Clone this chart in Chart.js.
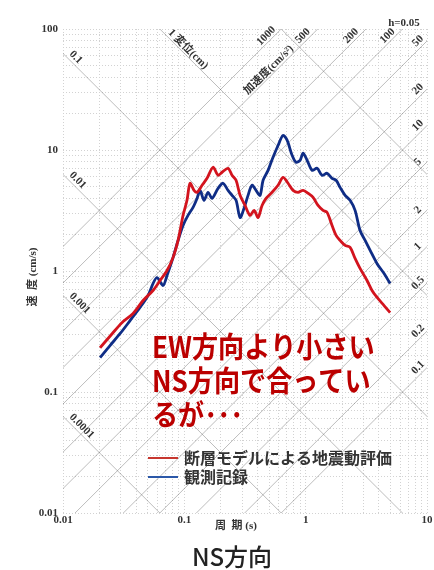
<!DOCTYPE html>
<html>
<head>
<meta charset="utf-8">
<script src="https://cdn.jsdelivr.net/npm/chart.js@4.4.0/dist/chart.umd.min.js"></script>
<style>
  html, body { margin: 0; padding: 0; background: #fff; }
  #wrap { position: relative; width: 434px; height: 570px; }
</style>
</head>
<body>
<div id="wrap"><canvas id="myChart" width="434" height="570"></canvas></div>
<script>
// 周期 (s) と擬似速度応答 (cm/s)
const modelPeriods = [0.0202, 0.0254, 0.0306, 0.0378, 0.0457, 0.0552, 0.0631, 0.0720, 0.0807, 0.0888,
  0.0976, 0.1052, 0.1114, 0.1202, 0.1273, 0.1400, 0.1538, 0.1725, 0.1897, 0.2046,
  0.2293, 0.2473, 0.2669, 0.2879, 0.3165, 0.3480, 0.3756, 0.4052, 0.4371, 0.4716,
  0.5287, 0.5921, 0.6510, 0.7161, 0.7875, 0.8658, 0.9525, 1.047, 1.151, 1.265,
  1.391, 1.501, 1.650, 1.781, 1.922, 2.113, 2.323, 2.554, 2.807, 3.206,
  3.524, 3.878, 4.428, 4.966];
const modelVelocity = [0.232, 0.303, 0.374, 0.445, 0.570, 0.690, 0.834, 1.01, 1.29, 1.79,
  2.88, 3.84, 5.31, 4.64, 4.47, 5.11, 5.83, 7.20, 6.18, 6.55,
  7.06, 6.18, 5.62, 4.22, 3.48, 2.88, 3.17, 2.77, 3.48, 3.98,
  4.47, 5.11, 5.95, 5.31, 4.64, 4.47, 4.64, 4.39, 4.06, 3.48,
  3.17, 3.05, 2.38, 1.97, 1.79, 1.63, 1.57, 1.27, 1.05, 0.834,
  0.690, 0.604, 0.518, 0.453];

const obsPeriods = [0.0202, 0.0244, 0.0295, 0.0357, 0.0431, 0.0502, 0.0552, 0.0596, 0.0668, 0.0720,
  0.0807, 0.0888, 0.0976, 0.1072, 0.1180, 0.1273, 0.1347, 0.1454, 0.1568, 0.1692,
  0.1897, 0.2085, 0.2293, 0.2473, 0.2669, 0.2879, 0.3107, 0.3350, 0.3614, 0.3899,
  0.4207, 0.4457, 0.4898, 0.5383, 0.5921, 0.6510, 0.7029, 0.7727, 0.8337, 0.8993,
  0.9525, 1.028, 1.130, 1.242, 1.365, 1.501, 1.650, 1.781, 1.922, 2.113,
  2.323, 2.554, 2.807, 3.09, 3.40, 3.878, 4.428, 4.966];
const obsVelocity = [0.192, 0.242, 0.303, 0.389, 0.499, 0.627, 0.788, 0.883, 0.759, 0.918,
  1.29, 1.79, 2.38, 2.88, 3.36, 3.98, 4.64, 3.84, 4.47, 3.98,
  4.82, 5.31, 4.64, 4.22, 3.84, 2.77, 3.30, 4.22, 5.11, 4.64,
  4.22, 5.62, 6.79, 8.71, 10.9, 13.2, 12.05, 9.05, 7.92, 8.22,
  9.40, 8.22, 6.79, 7.06, 6.18, 6.42, 5.83, 5.62, 4.91, 4.22,
  3.84, 3.17, 2.16, 1.79, 1.48, 1.15, 0.953, 0.788];

// 三軸図の斜線: 変位 (cm) と加速度 (cm/s2)
const dispLines = [0.0001, 0.001, 0.01, 0.1, 1, 10];
const dispLeftLabels = [0.1, 0.01, 0.001, 0.0001];
const accLines = [0.1, 0.2, 0.5, 1, 2, 5, 10, 20, 50, 100, 200, 500, 1000];
const accTopLabels = [1000, 500, 200, 100];
const accRightLabels = [50, 20, 10, 5, 2, 1, 0.5, 0.2, 0.1];

const xDecades = [0.01, 0.1, 1, 10];
const yDecades = [0.01, 0.1, 1, 10, 100];

const seriesNames = ['断層モデルによる地震動評価', '観測記録'];
const noteLines = ['EW方向より小さい', 'NS方向で合ってい', 'るが･･･'];

const TWO_PI = 2 * Math.PI;
const serif = '"Liberation Serif", "DejaVu Serif", "Noto Sans CJK JP"';
const cjk = '"Noto Sans CJK JP", sans-serif';

function minorTicks(decades) {
  const out = [];
  decades.forEach((d, i) => {
    if (i === decades.length - 1) { out.push(d); return; }
    for (let k = 1; k <= 9; k++) out.push(+(d * k).toPrecision(6));
  });
  return out;
}
const isDecade = v => Math.abs(Math.log10(v) - Math.round(Math.log10(v))) < 1e-6;

const diagStyle = { borderColor: 'rgba(90,90,90,0.5)', borderWidth: 0.8, pointRadius: 0, fill: false, order: 2, tension: 0 };
const diagSets = [
  ...dispLines.map(d => ({ ...diagStyle, data: [{ x: 0.001, y: TWO_PI * d / 0.001 }, { x: 100, y: TWO_PI * d / 100 }] })),
  ...accLines.map(a => ({ ...diagStyle, data: [{ x: 0.001, y: a * 0.001 / TWO_PI }, { x: 100, y: a * 100 / TWO_PI }] }))
];

function rotText(ctx, text, x, y, angle, align, baseline) {
  ctx.save();
  ctx.translate(x, y);
  ctx.rotate(angle);
  ctx.textAlign = align || 'center';
  ctx.textBaseline = baseline || 'middle';
  ctx.lineWidth = 3;
  ctx.strokeStyle = '#fff';
  ctx.strokeText(text, 0, 0);
  ctx.fillText(text, 0, 0);
  ctx.restore();
}

const tripartite = {
  id: 'tripartite',
  beforeDatasetsDraw(chart) {
    const { ctx, chartArea: a, scales: { x, y } } = chart;
    ctx.save();
    ctx.fillStyle = '#333';
    ctx.font = 'bold 11px ' + serif;
    // 変位の目盛 (左端)
    dispLeftLabels.forEach(d => {
      const px = a.left + 4;
      const py = y.getPixelForValue(TWO_PI * d / x.getValueForPixel(px));
      rotText(ctx, String(d), px, py - 1, Math.PI / 4, 'left', 'bottom');
    });
    // 変位 1cm (上端)
    const t1 = x.getPixelForValue(TWO_PI / 100);
    rotText(ctx, '1 変位(cm)', t1 + 6, a.top + 6, Math.PI / 4, 'left', 'bottom');
    // 加速度の目盛 (上端)
    accTopLabels.forEach(s => {
      const xt = x.getPixelForValue(TWO_PI * 100 / s);
      rotText(ctx, String(s), xt - 15, a.top + 7, -Math.PI / 4);
    });
    const x500 = x.getPixelForValue(TWO_PI * 100 / 500);
    rotText(ctx, '加速度(cm/s²)', x500 - 22, a.top + 22, -Math.PI / 4, 'right', 'bottom');
    // 加速度の目盛 (右端)
    accRightLabels.forEach(s => {
      const yr = y.getPixelForValue(s * 10 / TWO_PI);
      rotText(ctx, String(s), a.right - 9, yr, -Math.PI / 4);
    });
    ctx.textAlign = 'center';
    ctx.textBaseline = 'middle';
    ctx.fillText('h=0.05', 404, 23);
    ctx.restore();
  },
  afterDraw(chart) {
    const { ctx } = chart;
    ctx.save();
    // 軸タイトル
    ctx.fillStyle = '#333';
    ctx.font = 'bold 11px ' + serif;
    ctx.textAlign = 'center';
    ctx.textBaseline = 'middle';
    ctx.fillText('周  期 (s)', 236, 526);
    ctx.save();
    ctx.translate(33, 277);
    ctx.rotate(-Math.PI / 2);
    ctx.fillText('速  度 (cm/s)', 0, 0);
    ctx.restore();

    // 凡例
    const colors = ['#c7372f', '#2b58a8'];
    seriesNames.forEach((name, i) => {
      const ly = 458 + i * 19;
      ctx.strokeStyle = colors[i];
      ctx.lineWidth = 2;
      ctx.beginPath();
      ctx.moveTo(148, ly);
      ctx.lineTo(178, ly);
      ctx.stroke();
      ctx.fillStyle = '#333';
      ctx.font = 'bold 16px ' + cjk;
      ctx.textAlign = 'left';
      ctx.fillText(name, 184, ly);
    });

    // 注記 (横方向に少し詰める)
    ctx.fillStyle = '#bb0000';
    ctx.font = 'bold 29px ' + cjk;
    ctx.textAlign = 'left';
    noteLines.forEach((t, i) => {
      ctx.save();
      ctx.translate(152, 347 + i * 34);
      ctx.scale(0.9, 1);
      ctx.fillText(t, 0, 0);
      ctx.restore();
    });

    // 表題
    ctx.fillStyle = '#222';
    ctx.font = '500 24px ' + cjk;
    ctx.textAlign = 'center';
    ctx.fillText('NS方向', 232, 557);
    ctx.restore();
  }
};

const ctx = document.getElementById('myChart').getContext('2d');

const chart = new Chart(ctx, {
  type: 'line',
  data: {
    datasets: [
      {
        label: seriesNames[0],
        data: modelPeriods.map((t, i) => ({ x: t, y: modelVelocity[i] })),
        borderColor: '#d3141e',
        borderWidth: 2.8,
        pointRadius: 0,
        tension: 0.3,
        order: 0
      },
      {
        label: seriesNames[1],
        data: obsPeriods.map((t, i) => ({ x: t, y: obsVelocity[i] })),
        borderColor: '#0f2d86',
        borderWidth: 2.8,
        pointRadius: 0,
        tension: 0.3,
        order: 1
      },
      ...diagSets
    ]
  },
  options: {
    responsive: false,
    animation: false,
    layout: { padding: { top: 29, right: 7, left: 0, bottom: 37 } },
    plugins: { legend: { display: false }, tooltip: { enabled: false } },
    events: [],
    scales: {
      x: {
        type: 'logarithmic',
        min: 0.01,
        max: 10,
        afterBuildTicks: s => { s.ticks = minorTicks(xDecades).map(v => ({ value: v })); },
        afterFit: s => { s.height = 20; },
        ticks: {
          autoSkip: false,
          maxRotation: 0,
          padding: 1,
          color: '#333',
          font: { family: serif, size: 11, weight: 'bold' },
          callback: v => isDecade(v) ? String(v) : ''
        },
        grid: { color: '#d2d2d2', lineWidth: 1, drawTicks: false },
        border: { display: false, dash: [1, 2] }
      },
      y: {
        type: 'logarithmic',
        min: 0.01,
        max: 100,
        afterBuildTicks: s => { s.ticks = minorTicks(yDecades).map(v => ({ value: v })); },
        afterFit: s => { s.width = 63; },
        ticks: {
          autoSkip: false,
          padding: 5,
          color: '#333',
          font: { family: serif, size: 11, weight: 'bold' },
          callback: v => isDecade(v) ? String(v) : ''
        },
        grid: { color: '#d2d2d2', lineWidth: 1, drawTicks: false },
        border: { display: false, dash: [1, 2] }
      }
    }
  },
  plugins: [tripartite]
});
</script>
</body>
</html>
